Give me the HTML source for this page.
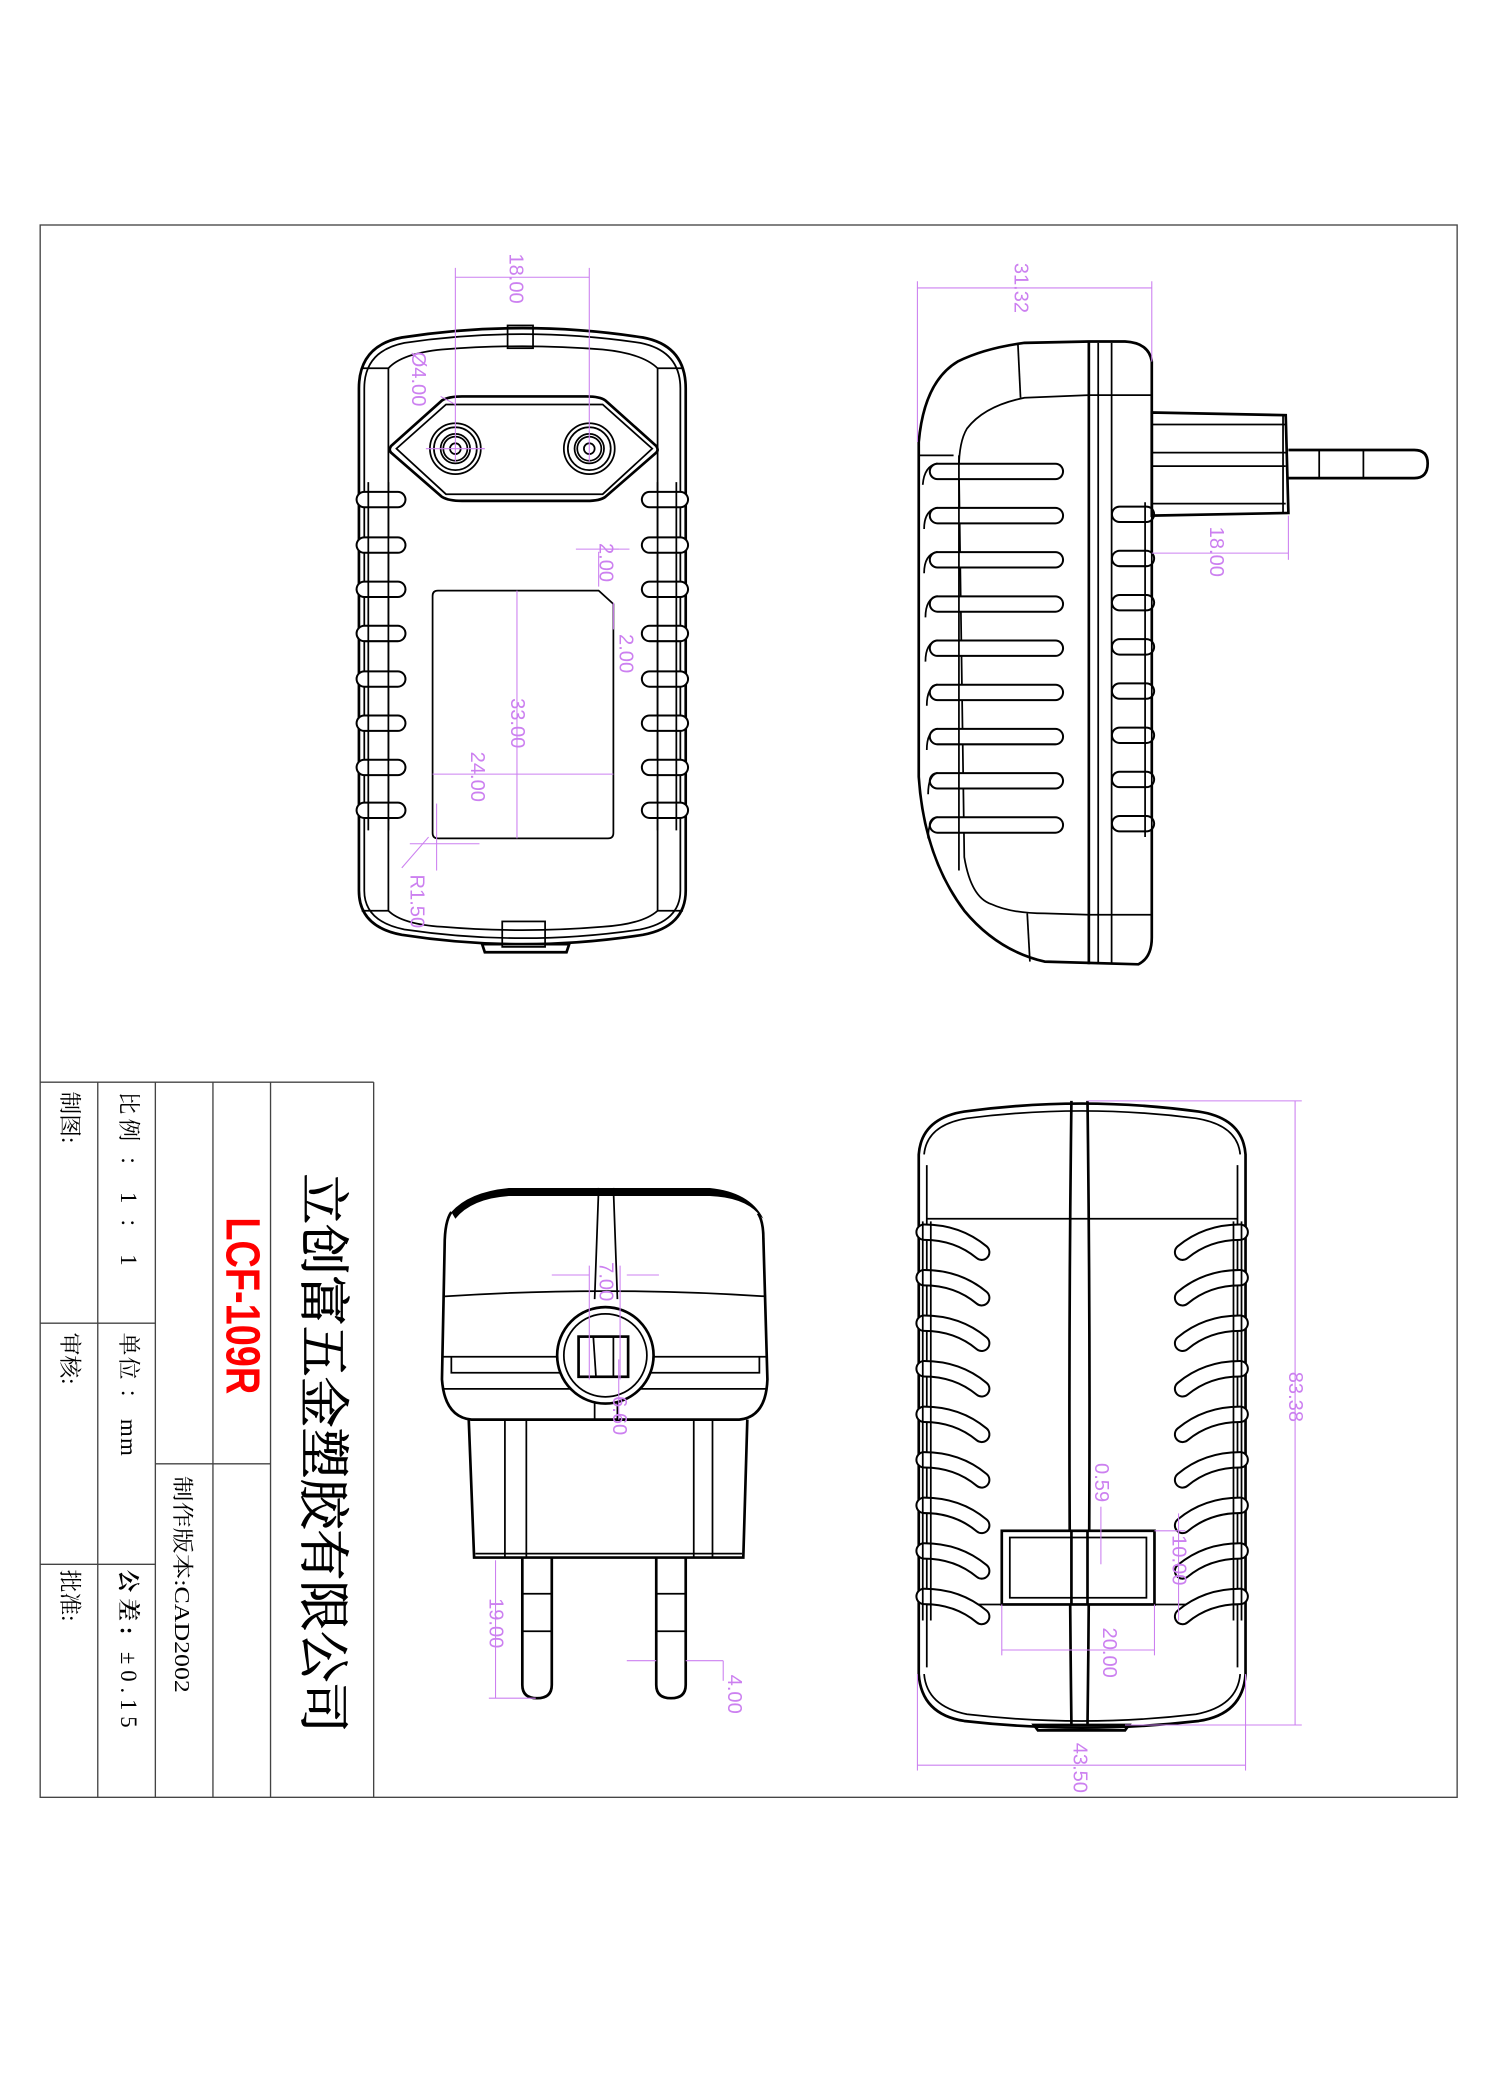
<!DOCTYPE html>
<html><head><meta charset="utf-8"><style>
html,body{margin:0;padding:0;background:#fff}
svg{display:block}
.k{fill:none;stroke:#000;stroke-width:1.3}
.kk{fill:none;stroke:#000;stroke-width:2}
.d{fill:none;stroke:#cc80f0;stroke-width:0.8}
.dt{fill:#cc80f0;font-family:"Liberation Sans",sans-serif;font-size:15px}
.sb{fill:none;stroke:#000;stroke-width:13;stroke-linecap:round}
.sw{fill:none;stroke:#fff;stroke-width:10;stroke-linecap:round}
.t{font-family:"Liberation Serif","Noto Serif CJK SC",serif;fill:#000}
</style></head><body>
<svg width="1500" height="2100" viewBox="0 0 1120 1568" xmlns="http://www.w3.org/2000/svg">
<rect x="0" y="0" width="1120" height="1568" fill="#fff"/>
<rect x="30" y="168" width="1058" height="1174" fill="none" stroke="#444" stroke-width="1"/>
<g fill="none" stroke="#444" stroke-width="1">
<line x1="30" y1="808" x2="279" y2="808"/>
<line x1="279" y1="808" x2="279" y2="1342"/>
<line x1="73" y1="808" x2="73" y2="1342"/>
<line x1="116" y1="808" x2="116" y2="1342"/>
<line x1="159" y1="808" x2="159" y2="1342"/>
<line x1="202" y1="808" x2="202" y2="1342"/>
<line x1="30" y1="988" x2="116" y2="988"/>
<line x1="30" y1="1168" x2="116" y2="1168"/>
<line x1="116" y1="1093" x2="202" y2="1093"/>
</g>
<g class="t">
<text transform="translate(240,1085) rotate(90)" text-anchor="middle" dominant-baseline="central" font-size="38" stroke="#000" stroke-width="0.6">立创富五金塑胶有限公司</text>
<text transform="translate(181,975) rotate(90)" text-anchor="middle" dominant-baseline="central" font-size="36" font-weight="bold" fill="#ff0000" font-family="Liberation Sans Narrow,Liberation Sans,sans-serif" textLength="132" lengthAdjust="spacingAndGlyphs">LCF-109R</text>
<text transform="translate(96,815) rotate(90)" dominant-baseline="central" font-size="17" textLength="130" lengthAdjust="spacing">比例 ： 1 ： 1</text>
<text transform="translate(96,995) rotate(90)" dominant-baseline="central" font-size="17" textLength="92" lengthAdjust="spacing">单位 ： mm</text>
<text transform="translate(96,1172) rotate(90)" dominant-baseline="central" font-size="17" textLength="118" lengthAdjust="spacing"><tspan font-weight="bold">公差:</tspan> ±0.15</text>
<text transform="translate(136,1102) rotate(90)" dominant-baseline="central" font-size="16" textLength="162" lengthAdjust="spacingAndGlyphs">制作版本:CAD2002</text>
<text transform="translate(52,815) rotate(90)" dominant-baseline="central" font-size="17">制图:</text>
<text transform="translate(52,995) rotate(90)" dominant-baseline="central" font-size="17">审核:</text>
<text transform="translate(52,1172) rotate(90)" dominant-baseline="central" font-size="17">批准:</text>
</g>

<g>
<path class="kk" d="M268,290 Q268,258 300,252 Q390,238 480,252 Q512,258 512,290 L512,665 Q512,692 480,698 Q390,712 300,698 Q268,692 268,665 Z"/>
<path class="k" d="M272,290 Q272,262 302,256 Q390,243 478,256 Q508,262 508,290 L508,665 Q508,688 478,694 Q390,707 302,694 Q272,688 272,665 Z"/>
<path class="k" d="M290,275 Q300,264 330,261 Q390,256 450,261 Q480,264 491,275 L491,680 Q480,690 450,692 Q390,697 330,692 Q300,690 290,680 Z"/>
<line class="k" x1="270" y1="275" x2="290" y2="275"/><line class="k" x1="491" y1="275" x2="510" y2="275"/>
<line class="k" x1="270" y1="680" x2="290" y2="680"/><line class="k" x1="491" y1="680" x2="510" y2="680"/>
<rect class="k" x="379" y="243" width="19" height="17"/>
<rect class="k" x="375" y="688" width="32" height="19"/>
<path class="kk" d="M360,705 L425,705 L423,711 L362,711 Z"/>
<path class="kk" d="M292,333 L330,299 Q335,296 345,296 L438,296 Q448,296 452,299 L490,333 Q492,336 490,338 L452,371 Q448,374 438,374 L345,374 Q335,374 330,371 L292,338 Q290,336 292,333 Z"/>
<path class="k" d="M296,335 L333,302 L450,302 L487,335 L450,369 L333,369 Z"/>
<g class="k"><circle cx="340" cy="335" r="19"/><circle cx="340" cy="335" r="16"/><circle cx="340" cy="335" r="11"/><circle cx="340" cy="335" r="9"/><circle cx="340" cy="335" r="4"/>
<circle cx="440" cy="335" r="19"/><circle cx="440" cy="335" r="16"/><circle cx="440" cy="335" r="11"/><circle cx="440" cy="335" r="9"/><circle cx="440" cy="335" r="4"/></g>
<g>
<line class="sb" x1="272" y1="373" x2="297" y2="373"/><line class="sw" x1="272" y1="373" x2="297" y2="373"/>
<line class="sb" x1="272" y1="407" x2="297" y2="407"/><line class="sw" x1="272" y1="407" x2="297" y2="407"/>
<line class="sb" x1="272" y1="440" x2="297" y2="440"/><line class="sw" x1="272" y1="440" x2="297" y2="440"/>
<line class="sb" x1="272" y1="473" x2="297" y2="473"/><line class="sw" x1="272" y1="473" x2="297" y2="473"/>
<line class="sb" x1="272" y1="507" x2="297" y2="507"/><line class="sw" x1="272" y1="507" x2="297" y2="507"/>
<line class="sb" x1="272" y1="540" x2="297" y2="540"/><line class="sw" x1="272" y1="540" x2="297" y2="540"/>
<line class="sb" x1="272" y1="573" x2="297" y2="573"/><line class="sw" x1="272" y1="573" x2="297" y2="573"/>
<line class="sb" x1="272" y1="605" x2="297" y2="605"/><line class="sw" x1="272" y1="605" x2="297" y2="605"/>
<line class="sb" x1="485" y1="373" x2="508" y2="373"/><line class="sw" x1="485" y1="373" x2="508" y2="373"/>
<line class="sb" x1="485" y1="407" x2="508" y2="407"/><line class="sw" x1="485" y1="407" x2="508" y2="407"/>
<line class="sb" x1="485" y1="440" x2="508" y2="440"/><line class="sw" x1="485" y1="440" x2="508" y2="440"/>
<line class="sb" x1="485" y1="473" x2="508" y2="473"/><line class="sw" x1="485" y1="473" x2="508" y2="473"/>
<line class="sb" x1="485" y1="507" x2="508" y2="507"/><line class="sw" x1="485" y1="507" x2="508" y2="507"/>
<line class="sb" x1="485" y1="540" x2="508" y2="540"/><line class="sw" x1="485" y1="540" x2="508" y2="540"/>
<line class="sb" x1="485" y1="573" x2="508" y2="573"/><line class="sw" x1="485" y1="573" x2="508" y2="573"/>
<line class="sb" x1="485" y1="605" x2="508" y2="605"/><line class="sw" x1="485" y1="605" x2="508" y2="605"/>
</g>
<line class="k" x1="275" y1="360" x2="275" y2="620"/><line class="k" x1="505" y1="360" x2="505" y2="620"/>
<line class="k" x1="290" y1="360" x2="290" y2="620"/><line class="k" x1="491" y1="360" x2="491" y2="620"/>
<path class="k" d="M327,441 L447,441 L458,451 L458,622 Q458,626 454,626 L327,626 Q323,626 323,622 L323,445 Q323,441 327,441 Z"/>
<g class="d">
<line x1="340" y1="207" x2="440" y2="207"/><line x1="340" y1="200" x2="340" y2="345"/><line x1="440" y1="200" x2="440" y2="345"/>
<line x1="318" y1="335" x2="362" y2="335"/><line x1="340" y1="302" x2="329" y2="296"/>
<line x1="386" y1="441" x2="386" y2="626"/>
<line x1="323" y1="578" x2="458" y2="578"/>
<line x1="300" y1="648" x2="320" y2="625"/><line x1="326" y1="600" x2="326" y2="650"/><line x1="306" y1="630" x2="358" y2="630"/>
<line x1="430" y1="410" x2="462" y2="410"/><line x1="447" y1="412" x2="447" y2="438"/><line x1="458" y1="450" x2="458" y2="470"/><line x1="452" y1="410" x2="470" y2="410"/>
</g>
<text class="dt" transform="translate(385,208) rotate(90)" text-anchor="middle" dominant-baseline="central">18.00</text>
<text class="dt" transform="translate(312,283) rotate(90)" text-anchor="middle" dominant-baseline="central">Ø4.00</text>
<text class="dt" transform="translate(386,540) rotate(90)" text-anchor="middle" dominant-baseline="central">33.00</text>
<text class="dt" transform="translate(356,580) rotate(90)" text-anchor="middle" dominant-baseline="central">24.00</text>
<text class="dt" transform="translate(311,673) rotate(90)" text-anchor="middle" dominant-baseline="central">R1.50</text>
<text class="dt" transform="translate(452,420) rotate(90)" text-anchor="middle" dominant-baseline="central" font-size="13">2.00</text>
<text class="dt" transform="translate(467,488) rotate(90)" text-anchor="middle" dominant-baseline="central">2.00</text>
</g>

<g>
<path class="kk" d="M813,255 L765,256 Q735,260 715,270 Q690,285 686,330 L686,580 Q690,640 720,680 Q745,710 780,718 L850,720 Q860,715 860,700 L860,270 Q858,256 840,255 Z"/>
<path class="k" d="M813,295 L765,297 Q735,303 722,320 Q716,330 716,350 L720,640 Q725,670 740,675 Q755,682 780,682 L813,683"/>
<line class="k" x1="760" y1="256" x2="762" y2="297"/><line class="k" x1="767" y1="682" x2="769" y2="718"/>
<line class="kk" x1="813" y1="255" x2="813" y2="720"/><line class="k" x1="820" y1="256" x2="820" y2="720"/><line class="k" x1="830" y1="256" x2="830" y2="720"/>
<line class="k" x1="813" y1="295" x2="860" y2="295"/><line class="k" x1="813" y1="683" x2="860" y2="683"/>
<line class="k" x1="686" y1="340" x2="712" y2="340"/>
<g>
<line class="sb" x1="700" y1="352" x2="788" y2="352"/><line class="sw" x1="700" y1="352" x2="788" y2="352"/>
<line class="sb" x1="700" y1="385" x2="788" y2="385"/><line class="sw" x1="700" y1="385" x2="788" y2="385"/>
<line class="sb" x1="700" y1="418" x2="788" y2="418"/><line class="sw" x1="700" y1="418" x2="788" y2="418"/>
<line class="sb" x1="700" y1="451" x2="788" y2="451"/><line class="sw" x1="700" y1="451" x2="788" y2="451"/>
<line class="sb" x1="700" y1="484" x2="788" y2="484"/><line class="sw" x1="700" y1="484" x2="788" y2="484"/>
<line class="sb" x1="700" y1="517" x2="788" y2="517"/><line class="sw" x1="700" y1="517" x2="788" y2="517"/>
<line class="sb" x1="700" y1="550" x2="788" y2="550"/><line class="sw" x1="700" y1="550" x2="788" y2="550"/>
<line class="sb" x1="700" y1="583" x2="788" y2="583"/><line class="sw" x1="700" y1="583" x2="788" y2="583"/>
<line class="sb" x1="700" y1="616" x2="788" y2="616"/><line class="sw" x1="700" y1="616" x2="788" y2="616"/>
</g>
<g class="k">
<path d="M700,346 Q690,348 689,362"/><path d="M700,379 Q690,381 690,395"/><path d="M700,412 Q690,414 690,428"/><path d="M700,445 Q691,447 691,461"/><path d="M700,478 Q691,480 691,494"/><path d="M700,511 Q692,513 692,527"/><path d="M700,544 Q692,546 692,560"/><path d="M700,577 Q693,579 693,593"/><path d="M700,610 Q693,612 693,626"/>
</g>
<line class="k" x1="716" y1="340" x2="716" y2="650"/>
<g>
<line class="sb" x1="836" y1="384" x2="856" y2="384"/><line class="sw" x1="836" y1="384" x2="856" y2="384"/>
<line class="sb" x1="836" y1="417" x2="856" y2="417"/><line class="sw" x1="836" y1="417" x2="856" y2="417"/>
<line class="sb" x1="836" y1="450" x2="856" y2="450"/><line class="sw" x1="836" y1="450" x2="856" y2="450"/>
<line class="sb" x1="836" y1="483" x2="856" y2="483"/><line class="sw" x1="836" y1="483" x2="856" y2="483"/>
<line class="sb" x1="836" y1="516" x2="856" y2="516"/><line class="sw" x1="836" y1="516" x2="856" y2="516"/>
<line class="sb" x1="836" y1="549" x2="856" y2="549"/><line class="sw" x1="836" y1="549" x2="856" y2="549"/>
<line class="sb" x1="836" y1="582" x2="856" y2="582"/><line class="sw" x1="836" y1="582" x2="856" y2="582"/>
<line class="sb" x1="836" y1="615" x2="856" y2="615"/><line class="sw" x1="836" y1="615" x2="856" y2="615"/>
</g>
<line class="k" x1="855" y1="375" x2="855" y2="625"/><line class="k" x1="860" y1="375" x2="860" y2="625"/>
<path class="kk" d="M860,308 L960,310 L962,383 L860,385 Z"/>
<line class="k" x1="860" y1="317" x2="960" y2="317"/><line class="k" x1="860" y1="338" x2="960" y2="338"/><line class="k" x1="860" y1="348" x2="960" y2="348"/><line class="k" x1="860" y1="376" x2="960" y2="376"/>
<line class="k" x1="958" y1="310" x2="958" y2="383"/>
<path class="kk" d="M962,336 L1056,336 Q1066,336 1066,346 Q1066,357 1056,357 L962,357"/>
<line class="k" x1="985" y1="336" x2="985" y2="357"/><line class="k" x1="1018" y1="336" x2="1018" y2="357"/>
</g>
<g class="d">
<line x1="685" y1="215" x2="860" y2="215"/><line x1="685" y1="210" x2="685" y2="330"/><line x1="860" y1="210" x2="860" y2="270"/>
<line x1="860" y1="413" x2="962" y2="413"/><line x1="962" y1="385" x2="962" y2="418"/>
</g>
<text class="dt" transform="translate(762,215) rotate(90)" text-anchor="middle" dominant-baseline="central">31.32</text>
<text class="dt" transform="translate(908,412) rotate(90)" text-anchor="middle" dominant-baseline="central">18.00</text>

<g>
<path d="M337,905 Q350,890 380,887 L530,887 Q560,890 570,910 L566,906 Q555,894 530,893 L380,893 Q352,895 340,910 Z" fill="#000"/>
<path class="kk" d="M337,905 Q332,912 332,930 L330,1030 Q332,1058 352,1060 L552,1060 Q572,1058 573,1030 L570,925 Q570,912 566,906"/>
<line class="k" x1="380" y1="890" x2="530" y2="890"/>
<path class="k" d="M332,968 Q450,960 572,968"/>
<line class="k" x1="330" y1="1013" x2="573" y2="1013"/>
<path class="k" d="M337,1013 L337,1025 L567,1025 L567,1013"/>
<line class="k" x1="330" y1="1037" x2="573" y2="1037"/>
<path class="k" d="M447,887 L444,970 M458,887 L461,970"/>
<circle cx="452" cy="1012" r="36" fill="#fff" stroke="#000" stroke-width="2"/>
<circle class="k" cx="452" cy="1012" r="31"/>
<rect class="kk" x="432" y="998" width="37" height="30"/>
<line class="k" x1="443" y1="998" x2="445" y2="1028"/><line class="k" x1="458" y1="998" x2="458" y2="1028"/>
<line class="k" x1="444" y1="1047" x2="444" y2="1060"/><line class="k" x1="461" y1="1047" x2="461" y2="1060"/>
<path class="kk" d="M350,1060 L354,1163 L555,1163 L558,1060"/>
<line class="k" x1="355" y1="1160" x2="554" y2="1160"/>
<line class="k" x1="377" y1="1060" x2="377" y2="1163"/><line class="k" x1="393" y1="1060" x2="393" y2="1163"/>
<line class="k" x1="518" y1="1060" x2="518" y2="1163"/><line class="k" x1="532" y1="1060" x2="532" y2="1163"/>
<path class="kk" d="M390,1163 L390,1258 Q390,1268 401,1268 Q412,1268 412,1258 L412,1163"/>
<line class="k" x1="390" y1="1190" x2="412" y2="1190"/><line class="k" x1="390" y1="1218" x2="412" y2="1218"/>
<path class="kk" d="M490,1163 L490,1258 Q490,1268 501,1268 Q512,1268 512,1258 L512,1163"/>
<line class="k" x1="490" y1="1190" x2="512" y2="1190"/><line class="k" x1="490" y1="1218" x2="512" y2="1218"/>
</g>
<g class="d">
<line x1="370" y1="1165" x2="370" y2="1268"/><line x1="365" y1="1268" x2="400" y2="1268"/>
<line x1="468" y1="1240" x2="490" y2="1240"/><line x1="512" y1="1240" x2="540" y2="1240"/><line x1="540" y1="1240" x2="540" y2="1255"/>
<line x1="412" y1="952" x2="440" y2="952"/><line x1="468" y1="952" x2="492" y2="952"/><line x1="440" y1="945" x2="440" y2="1030"/><line x1="463" y1="945" x2="463" y2="1030"/>
<line x1="462" y1="1015" x2="462" y2="1060"/>
</g>
<text class="dt" transform="translate(370,1212) rotate(90)" text-anchor="middle" dominant-baseline="central">19.00</text>
<text class="dt" transform="translate(548,1265) rotate(90)" text-anchor="middle" dominant-baseline="central">4.00</text>
<text class="dt" transform="translate(452,957) rotate(90)" text-anchor="middle" dominant-baseline="central">7.00</text>
<text class="dt" transform="translate(462,1057) rotate(90)" text-anchor="middle" dominant-baseline="central">6.60</text>

<g>
<path class="kk" d="M686,862 Q688,835 720,830 Q808,818 895,830 Q928,835 930,862 L930,1250 Q928,1280 895,1285 Q808,1295 720,1285 Q688,1280 686,1250 Z"/>
<path class="k" d="M690,862 Q692,840 722,835 Q808,824 893,835 Q924,840 926,862"/>
<path class="k" d="M690,1250 Q692,1274 722,1280 Q808,1290 893,1280 Q924,1274 926,1250"/>
<line class="k" x1="692" y1="870" x2="692" y2="1245"/><line class="k" x1="924" y1="870" x2="924" y2="1245"/>
<line class="k" x1="692" y1="910" x2="924" y2="910"/>
<line class="k" x1="692" y1="1198" x2="924" y2="1198"/>
<path class="kk" d="M800,822 Q797,1055 800,1288"/><path class="kk" d="M812,822 Q815,1055 812,1288"/>
<path class="kk" d="M772,1288 L843,1288 L840,1292 L775,1292 Z"/>
<g>
<path class="sb" d="M690,920 Q715,920 733,935"/><path class="sw" d="M690,920 Q715,920 733,935"/>
<path class="sb" d="M690,954 Q715,954 733,969"/><path class="sw" d="M690,954 Q715,954 733,969"/>
<path class="sb" d="M690,988 Q715,988 733,1003"/><path class="sw" d="M690,988 Q715,988 733,1003"/>
<path class="sb" d="M690,1022 Q715,1022 733,1037"/><path class="sw" d="M690,1022 Q715,1022 733,1037"/>
<path class="sb" d="M690,1056 Q715,1056 733,1071"/><path class="sw" d="M690,1056 Q715,1056 733,1071"/>
<path class="sb" d="M690,1090 Q715,1090 733,1105"/><path class="sw" d="M690,1090 Q715,1090 733,1105"/>
<path class="sb" d="M690,1124 Q715,1124 733,1139"/><path class="sw" d="M690,1124 Q715,1124 733,1139"/>
<path class="sb" d="M690,1158 Q715,1158 733,1173"/><path class="sw" d="M690,1158 Q715,1158 733,1173"/>
<path class="sb" d="M690,1192 Q715,1192 733,1207"/><path class="sw" d="M690,1192 Q715,1192 733,1207"/>
<path class="sb" d="M926,920 Q901,920 883,935"/><path class="sw" d="M926,920 Q901,920 883,935"/>
<path class="sb" d="M926,954 Q901,954 883,969"/><path class="sw" d="M926,954 Q901,954 883,969"/>
<path class="sb" d="M926,988 Q901,988 883,1003"/><path class="sw" d="M926,988 Q901,988 883,1003"/>
<path class="sb" d="M926,1022 Q901,1022 883,1037"/><path class="sw" d="M926,1022 Q901,1022 883,1037"/>
<path class="sb" d="M926,1056 Q901,1056 883,1071"/><path class="sw" d="M926,1056 Q901,1056 883,1071"/>
<path class="sb" d="M926,1090 Q901,1090 883,1105"/><path class="sw" d="M926,1090 Q901,1090 883,1105"/>
<path class="sb" d="M926,1124 Q901,1124 883,1139"/><path class="sw" d="M926,1124 Q901,1124 883,1139"/>
<path class="sb" d="M926,1158 Q901,1158 883,1173"/><path class="sw" d="M926,1158 Q901,1158 883,1173"/>
<path class="sb" d="M926,1192 Q901,1192 883,1207"/><path class="sw" d="M926,1192 Q901,1192 883,1207"/>
</g>
<line class="k" x1="689" y1="912" x2="689" y2="1210"/><line class="k" x1="695" y1="912" x2="695" y2="1210"/>
<line class="k" x1="921" y1="912" x2="921" y2="1210"/><line class="k" x1="927" y1="912" x2="927" y2="1210"/>
<rect x="748" y="1143" width="114" height="55" fill="#fff" stroke="#000" stroke-width="2"/>
<rect class="k" x="754" y="1148" width="102" height="45"/>
<line class="kk" x1="800" y1="1143" x2="800" y2="1198"/><line class="kk" x1="812" y1="1143" x2="812" y2="1198"/>
</g>
<g class="d">
<line x1="812" y1="822" x2="972" y2="822"/><line x1="840" y1="1288" x2="972" y2="1288"/><line x1="967" y1="822" x2="967" y2="1288"/>
<line x1="685" y1="1318" x2="930" y2="1318"/><line x1="685" y1="1250" x2="685" y2="1322"/><line x1="930" y1="1250" x2="930" y2="1322"/>
<line x1="748" y1="1232" x2="862" y2="1232"/><line x1="748" y1="1198" x2="748" y2="1236"/><line x1="862" y1="1198" x2="862" y2="1236"/>
<line x1="822" y1="1125" x2="822" y2="1168"/>
<line x1="880" y1="1130" x2="880" y2="1210"/><line x1="862" y1="1143" x2="885" y2="1143"/>
</g>
<text class="dt" transform="translate(967,1043) rotate(90)" text-anchor="middle" dominant-baseline="central">83.38</text>
<text class="dt" transform="translate(806,1320) rotate(90)" text-anchor="middle" dominant-baseline="central">43.50</text>
<text class="dt" transform="translate(828,1234) rotate(90)" text-anchor="middle" dominant-baseline="central">20.00</text>
<text class="dt" transform="translate(822,1107) rotate(90)" text-anchor="middle" dominant-baseline="central">0.59</text>
<text class="dt" transform="translate(880,1165) rotate(90)" text-anchor="middle" dominant-baseline="central">10.00</text>
</svg>
</body></html>
